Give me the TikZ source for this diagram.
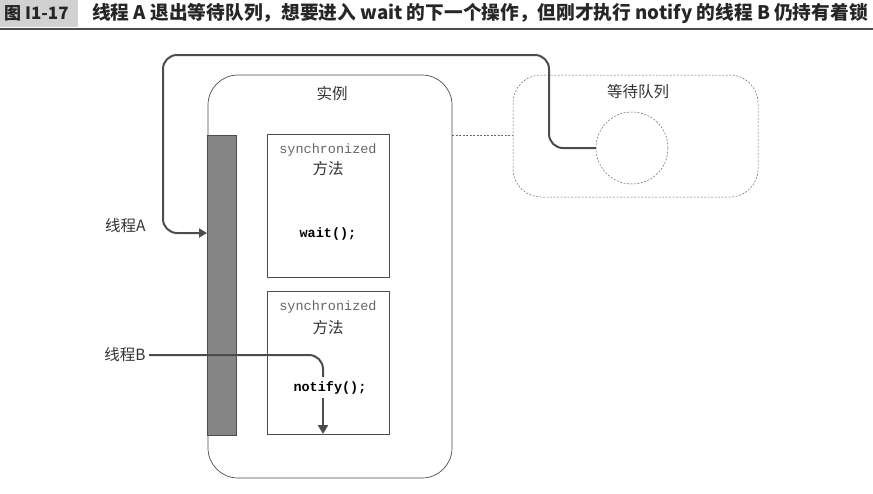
\documentclass[tikz,border=0pt]{standalone}
\usepackage{fontspec}
\setmainfont{Noto Sans CJK SC}
\setmonofont{Liberation Mono}
\newfontfamily\cjk{Noto Sans CJK SC}
\usetikzlibrary{arrows.meta}
\begin{document}
\begin{tikzpicture}[x=1pt,y=-1pt,
  lbl/.style={font=\cjk\fontsize{15.5}{17}\selectfont, text=black!80},
  mth/.style={draw=black!70, line width=0.6pt},
  flow/.style={draw=black!70, line width=2pt, rounded corners=14pt, -{Triangle[length=8pt,width=9pt]}},
  dsh/.style={draw=black!60, dashed, dash pattern=on 2pt off 1.5pt, line width=0.5pt}]
\useasboundingbox (0,0) rectangle (873,493);
% title
\fill[black!18] (0,0) rectangle (78,27);
\draw[black!70, line width=1.6pt] (0,29) -- (873,29);
\node[font=\cjk\bfseries\fontsize{17}{19}\selectfont, anchor=west, text=black!85, inner sep=0pt] (fig) at (4,13.5) {图 I1-17};
\node[font=\cjk\bfseries\fontsize{18.7}{20}\selectfont, anchor=west, text=black!85, inner sep=0pt] (title) at (92,13.5) {线程 A 退出等待队列，想要进入 wait 的下一个操作，但刚才执行 notify 的线程 B 仍持有着锁};
% instance
\draw[black!70, line width=0.7pt, rounded corners=30pt] (208,75) rectangle (452,478);
\node[lbl] (inst) at (332,94) {实例};
\fill[black!48] (207,135) rectangle (236,435);
\draw[black!70, line width=0.5pt] (207,135) rectangle (236,435);
\coordinate (barA) at (207,233);
% method boxes
\draw[mth] (267,134) rectangle (389,277);
\node[font=\ttfamily\fontsize{13.5}{15}\selectfont, text=black!60] (s1) at (328,150) {synchronized};
\node[lbl] (m1) at (328,169) {方法};
\node[font=\ttfamily\bfseries\fontsize{13.5}{15}\selectfont] (wait) at (328,234) {wait();};
\draw[mth] (267,291) rectangle (389,434);
\node[font=\ttfamily\fontsize{13.5}{15}\selectfont, text=black!60] (s2) at (328,307) {synchronized};
\node[lbl] (m2) at (328,328) {方法};
\node[font=\ttfamily\bfseries\fontsize{13.5}{15}\selectfont, fill=white, inner sep=1pt] (notify) at (330,388) {notify();};
% wait queue
\draw[dsh, rounded corners=28pt] (513,75) rectangle (758,197);
\node[lbl] (wq) at (638,92) {等待队列};
\node[dsh, circle, minimum size=72pt, inner sep=0pt] (circ) at (632,148) {};
\draw[dsh] (452,135) -- (513,135);
% thread labels
\node[lbl, anchor=east] (tA) at (149,226) {线程A};
\node[lbl, anchor=east] (tB) at (149,355) {线程B};
% flows
\draw[flow] (circ.west) -- (549,148) -- (549,55) -- (163,55) -- (163,233) -- (barA);
\coordinate (bEnd) at (323,434);
\draw[draw=black!70, line width=2pt, rounded corners=14pt] (tB.east) -- (323,355) -- (323,377);
\draw[draw=black!70, line width=2pt, -{Triangle[length=9pt,width=10pt]}] (323,398) -- (bEnd);
\end{tikzpicture}
\end{document}
